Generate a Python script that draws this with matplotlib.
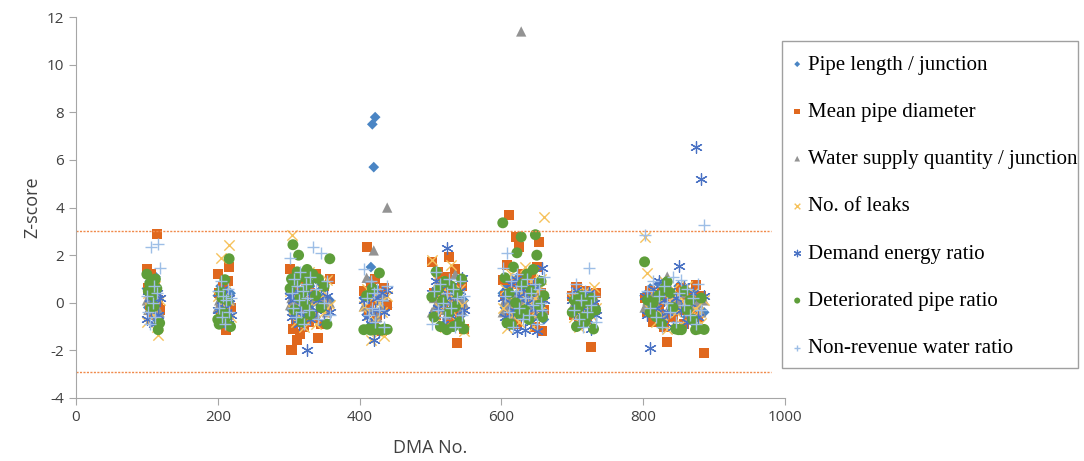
import matplotlib
matplotlib.use("Agg")
import matplotlib.pyplot as plt
from matplotlib.patches import Rectangle

plt.rcParams["axes.unicode_minus"] = False

# DMA ids, grouped by district block
dma = (
    [100, 102, 104, 106, 108, 110, 112, 114, 116, 118]
    + [200, 202, 204, 206, 208, 210, 212, 214, 216, 218]
    + [302, 304, 306, 308, 310, 312, 314, 316, 318, 320, 322,
       324, 326, 328, 330, 334, 338, 342, 346, 350, 354, 358]
    + [406, 410, 413, 416, 418, 420, 422, 425, 428, 431, 435, 439]
    + [502, 505, 508, 511, 514, 517, 520, 523, 526, 529, 532, 535, 538, 541, 544, 547]
    + [602, 605, 608, 611, 614, 617, 620, 622, 625, 628, 630,
       633, 636, 639, 642, 645, 648, 650, 653, 656, 658, 660]
    + [700, 703, 706, 709, 712, 715, 718, 721, 724, 727, 730, 733]
    + [802, 806, 810, 814, 818, 822, 826, 830, 834, 838, 842,
       846, 850, 854, 858, 862, 866, 870, 874, 878, 882, 886]
)

pipe_length = (
    [0.6, -0.2, 0.9, 0.1, -0.5, 0.3, 1.1, -0.7, 0.2, -0.3]
    + [0.3, -0.4, 0.7, -0.1, 0.2, -0.6, 0.5, 0.0, -0.3, 0.4]
    + [0.4, -0.3, 0.8, 0.1, -0.5, 0.6, -0.1, 0.3, -0.7, 0.9, 0.2,
       -0.4, 0.5, -0.2, 0.7, 0.0, -0.6, 0.3, -0.1, 0.6, -0.3, 0.1]
    + [0.2, -0.5, 0.9, 1.5, 7.5, 5.7, 7.8, 0.55, -0.4, 0.3, 0.6, -0.2]
    + [0.3, -0.6, 0.5, -0.1, 0.8, -0.3, 0.2, -0.8, 0.6, 0.0, -0.4, 0.4, -0.2, 0.7, -0.5, 0.1]
    + [0.4, -0.2, 0.7, 0.1, -0.5, 0.9, 0.3, -0.3, 1.1, 0.0, 0.5,
       -0.6, 0.2, 0.8, -0.1, 0.4, -0.4, 0.6, 0.1, -0.2, 0.3, -0.7]
    + [0.2, -0.4, 0.5, -0.1, -0.7, 0.3, -0.3, 0.0, 0.4, -0.5, 0.1, -0.2]
    + [0.3, -0.2, 0.6, -0.5, 0.1, 0.8, -0.4, 0.2, -0.7, 0.5, 0.0,
       -0.3, 0.7, -0.1, 0.4, -0.6, 0.2, 0.5, -0.2, 0.3, 0.1, -0.4]
)

pipe_diameter = (
    [1.4, 0.6, -0.1, 1.2, 0.3, -0.5, 0.9, 2.9, 0.1, -0.3]
    + [1.2, 0.4, -0.3, -0.6, 0.7, 0.1, -1.15, 0.9, 1.5, -0.2]
    + [1.4, -1.97, -1.1, 0.6, -0.8, -1.55, 0.2, -1.3, 1.1, -0.5, -1.0,
       0.9, -0.3, -0.8, 0.4, -0.6, 1.2, -1.5, -0.9, 0.7, -0.2, 1.0]
    + [0.5, 2.35, -0.3, 0.8, 0.1, -0.9, 1.0, -0.5, 0.3, -1.2, 0.6, -0.1]
    + [1.72, 0.4, -0.5, 1.3, 0.9, -0.2, 0.6, 1.1, 1.93, -0.8, 0.2, 1.4, -1.68, -0.4, 0.7, -1.1]
    + [0.97, 0.3, 1.6, 3.7, -0.4, 0.8, 2.78, -0.9, 2.36, 0.5, 1.2,
       -0.2, 0.7, -0.6, 1.0, 0.1, -1.0, 1.5, 2.56, 0.4, -1.18, -0.3]
    + [0.3, -0.5, 0.67, -0.9, 0.1, -0.3, 0.5, -0.7, 0.0, -1.85, -0.2, 0.4]
    + [0.2, -0.4, 0.5, -0.8, 0.1, -0.2, 0.4, -1.0, -1.63, 0.3, -0.6,
       0.0, -0.3, 0.6, -0.9, 0.2, -0.5, 0.1, 0.76, -0.6, 0.3, -2.1]
)

water_supply = (
    [0.1, -0.3, 0.4, -0.1, 0.2, -0.5, 0.0, -0.2, 0.3, -0.4]
    + [-0.2, 0.1, -0.4, 0.2, -0.1, 0.0, -0.3, 0.3, -0.5, 0.1]
    + [-0.1, 0.2, -0.3, 0.0, 0.4, -0.2, 0.1, -0.4, 0.3, -0.1, 0.2,
       -0.3, 0.0, 0.5, -0.2, 0.1, -0.5, 0.3, -0.1, 0.2, -0.4, 0.0]
    + [-0.15, 1.05, 0.5, -0.3, 0.8, 2.2, 0.4, -0.6, 0.1, -0.2, 0.25, 4.0]
    + [-0.4, 0.2, -0.1, 0.5, -0.3, 0.0, 0.3, -0.5, 0.1, -0.2, 0.4, 1.2, -0.1, 0.2, -0.3, 0.0]
    + [-0.4, 0.1, -0.2, 0.3, -0.5, 0.0, 0.2, -0.3, 0.4, 11.4, -0.1,
       0.1, -0.4, 0.2, -0.2, 0.0, 0.3, -0.5, 0.1, -0.1, 0.2, -0.3]
    + [-0.3, 0.0, -0.5, 0.2, -0.2, -0.6, 0.1, -0.4, 0.0, -0.3, 0.3, -0.1]
    + [-0.2, 0.1, -0.4, 0.3, 0.0, -0.3, 0.2, -0.5, 1.1, -0.1, 0.2,
       -0.3, 0.0, 0.4, -0.2, 0.1, -0.4, 0.2, -0.1, 0.0, -0.4, 0.1]
)

leaks = (
    [-0.8, 0.4, -0.2, 1.0, -0.5, 0.2, 0.7, -1.0, -1.35, 0.1]
    + [0.3, -0.4, 1.9, 0.0, -0.8, 0.5, -0.2, 0.1, 2.44, -0.6]
    + [0.5, 2.85, -0.3, 0.9, -0.8, 0.2, 1.1, -0.5, 0.0, 0.7, -1.0,
       0.3, -0.2, 1.3, -0.6, 0.4, -0.9, 0.1, 0.6, -0.4, 0.95, -0.1]
    + [-0.15, 0.6, -0.5, -1.55, 0.2, -0.9, 0.4, -1.2, 0.0, -0.4, -1.4, 0.3]
    + [1.8, 0.3, -0.6, 0.9, -0.2, 0.5, -1.0, 0.1, 0.7, 1.6, -0.4, 0.2, -0.8, 0.6, -0.1, -1.2]
    + [-0.2, 0.6, -1.05, 0.3, 1.2, -0.5, 0.0, 0.8, -0.8, 0.4, -0.3,
       1.5, 0.1, -0.6, 0.9, -1.0, 0.2, 0.5, -0.4, 1.0, -0.1, 3.6]
    + [0.2, -0.6, 0.4, -1.0, 0.0, -0.3, 0.5, -0.8, 0.1, -0.5, 0.67, -0.2]
    + [2.75, 1.25, -0.3, 0.5, -0.8, 0.2, -0.5, 0.9, -1.1, 0.1, 0.6,
       -0.4, 0.3, -0.9, 0.0, 0.7, -0.6, 0.4, -0.2, -0.4, -0.85, 0.1]
)

demand_energy = (
    [-0.7, 0.5, 0.2, -0.3, 0.8, -0.9, 0.0, 0.4, -0.5, 0.2]
    + [-0.3, 0.4, -0.7, 0.1, 0.6, -0.2, 0.3, -0.9, 0.2, -0.5]
    + [0.3, -0.6, 0.1, 0.8, -0.4, 0.5, -0.9, 0.2, -0.2, 0.6, -0.5,
       0.0, -1.97, 0.4, -0.7, 0.9, -0.3, 0.1, 0.7, -0.8, 0.3, -0.4]
    + [0.1, -0.6, 0.3, -0.9, 0.6, -1.55, -0.3, 0.2, -1.2, 0.4, -0.4, 0.55]
    + [0.4, -0.5, 0.9, -0.2, 0.6, -0.9, 0.1, 2.3, -0.4, 0.7, -0.1, 0.3, -0.7, 0.5, 1.05, -0.3]
    + [0.2, -0.6, 0.5, -0.9, 0.8, -0.3, 1.0, -1.2, 0.3, -0.5, 0.6,
       -1.15, 0.0, 0.4, -0.8, 0.7, -0.2, -1.2, 0.9, -0.4, 1.45, 0.1]
    + [0.1, -0.4, 0.55, -0.9, 0.3, -0.2, 0.12, -0.7, 0.4, -1.1, 0.0, -0.5]
    + [0.3, -0.5, -1.9, 0.6, -0.2, 0.9, -0.7, 0.1, -0.4, 0.5, -1.0,
       0.2, 1.55, -0.3, 0.7, -0.8, 0.0, 0.4, 6.55, -0.6, 5.2, 0.3]
)

deteriorated = (
    [1.2, 0.5, 0.8, -0.2, 0.3, -0.15, 1.0, 0.6, -1.13, -0.85]
    + [-0.7, -0.9, 0.47, 0.2, -0.4, 0.97, -0.6, 0.1, 1.85, -1.0]
    + [0.6, 1.0, 2.44, -0.3, 0.9, 1.3, 2.0, 0.2, -0.8, 1.1, 0.5,
       -0.1, 1.4, 0.8, -0.5, 1.2, 0.3, 1.0, -0.2, 0.7, -0.9, 1.85]
    + [-1.13, 0.3, -1.1, -1.15, 0.6, -1.1, -1.13, -1.1, 1.25, -1.15, -1.1, -1.12]
    + [0.25, -0.6, 1.3, 0.55, -1.0, 0.1, 0.9, -1.13, -0.4, 0.7, -1.0, -0.16, 0.4, -0.8, 1.0, -1.1]
    + [3.36, 1.05, -0.85, 0.4, -0.9, 1.5, 0.0, 2.1, -0.45, 2.77, 0.8,
       -0.3, 1.2, -0.7, 0.5, 1.4, 2.86, 2.0, -0.1, 0.9, -0.6, 0.3]
    + [-0.4, 0.1, -1.0, -0.2, 0.3, -0.62, -0.8, 0.0, -0.5, 0.2, -1.1, -0.3]
    + [1.72, 0.12, -0.4, 0.0, -0.58, 0.3, -0.9, 0.6, 0.88, 0.42, -0.2,
       -1.1, -1.13, -1.13, 0.5, -0.3, 0.1, -0.7, -1.13, -1.1, 0.2, -1.12]
)

non_revenue = (
    [0.3, -0.4, -0.9, 2.35, 0.0, 0.7, -0.6, 0.4, 2.45, 1.45]
    + [0.5, -0.2, 0.9, -0.6, 0.3, -0.9, 0.1, 0.6, -0.4, 0.2]
    + [1.9, 0.4, -0.2, 1.0, -0.6, 0.7, 0.1, 1.3, -0.4, 0.5, -0.9,
       0.8, 0.2, -0.3, 1.1, 2.35, 0.6, -0.7, 2.1, 0.0, 0.9, -0.5]
    + [1.4, 0.2, -0.5, 0.9, -0.2, 0.4, -0.8, 0.6, -0.3, 0.1, -1.0, 0.7]
    + [-0.9, 0.5, 1.3, -0.3, 0.8, 0.0, -0.6, 0.4, 1.0, -0.2, 0.6, -1.0, 0.2, 0.9, -0.5, 0.3]
    + [1.47, 0.3, 2.1, -0.4, 0.9, -1.0, 0.5, 1.2, -0.2, 0.7, -0.7,
       0.2, 1.0, -0.5, 0.4, -0.1, 0.8, -0.9, 0.6, 0.0, -0.3, 1.1]
    + [0.4, -0.3, 0.8, -0.7, 0.1, -1.0, 0.5, -0.4, 1.47, -0.1, 0.3, -0.8]
    + [2.85, 0.5, -0.2, 0.9, -0.6, 0.3, -1.0, 0.7, 0.0, -0.4, 1.1,
       -0.8, 0.4, 0.97, -0.1, 0.6, -0.5, 0.2, -0.9, 0.8, -0.3, 3.25]
)

labels = [
    "Pipe length / junction",
    "Mean pipe diameter",
    "Water supply quantity / junction",
    "No. of leaks",
    "Demand energy ratio",
    "Deteriorated pipe ratio",
    "Non-revenue water ratio",
]
threshold_upper = 3.0
threshold_lower = -2.9

series = [pipe_length, pipe_diameter, water_supply, leaks,
          demand_energy, deteriorated, non_revenue]
styles = [
    dict(marker="D", s=30, color="#4A85C4", edgecolors="none"),
    dict(marker="s", s=52, color="#E0681E", edgecolors="none"),
    dict(marker="^", s=55, color="#939393", edgecolors="none"),
    dict(marker="x", s=55, color="#F6C25C", linewidths=1.0),
    dict(marker=(6, 2, 0), s=70, color="#4A72C4", linewidths=0.9),
    dict(marker="o", s=62, color="#5E9E3A", edgecolors="none"),
    dict(marker="+", s=75, color="#9DBEE6", linewidths=1.0),
]

W, H = 1084, 461
fig = plt.figure(figsize=(W / 100, H / 100), dpi=100)
ax = fig.add_axes([0.0701, 0.1367, 0.654, 0.826])

for values, label, st in zip(series, labels, styles):
    ax.scatter(dma, values, label=label, **st)

ax.plot([0, 980], [threshold_upper, threshold_upper], color="#F08A4B",
        lw=1.0, ls=(0, (1.5, 1)))
ax.plot([0, 980], [threshold_lower, threshold_lower], color="#F08A4B",
        lw=1.0, ls=(0, (1.5, 1)))

ax.set_xlim(0, 1000)
ax.set_ylim(-4, 12)
ax.set_xticks(range(0, 1001, 200))
ax.set_yticks(range(-4, 13, 2))
for side in ("top", "right"):
    ax.spines[side].set_visible(False)
for side in ("left", "bottom"):
    ax.spines[side].set_color("#A6A6A6")
ax.tick_params(colors="#A6A6A6", labelcolor="#404040", length=5,
               labelsize=11)
for t in ax.get_xticklabels() + ax.get_yticklabels():
    t.set_family("Open Sans")

ax.set_xlabel("DMA No.", family="Open Sans", fontsize=13, color="#404040",
              labelpad=10)
ax.set_ylabel("Z-score", family="Open Sans", fontsize=13, color="#404040",
              labelpad=4)

# legend text without its own frame, box drawn separately
fig.legend(loc="upper left", bbox_to_anchor=(792 / W, 1 - 55 / H),
           frameon=False, borderaxespad=0, borderpad=0,
           prop={"family": "Liberation Serif", "size": 15},
           markerscale=0.55, handlelength=0.5, handletextpad=0.25,
           labelspacing=1.33)
fig.patches.append(Rectangle((782 / W, 1 - 368 / H), 296 / W, 327 / H,
                             transform=fig.transFigure, fill=False,
                             edgecolor="#A0A0A0", linewidth=1.0))

fig.savefig("out.png", dpi=100)
